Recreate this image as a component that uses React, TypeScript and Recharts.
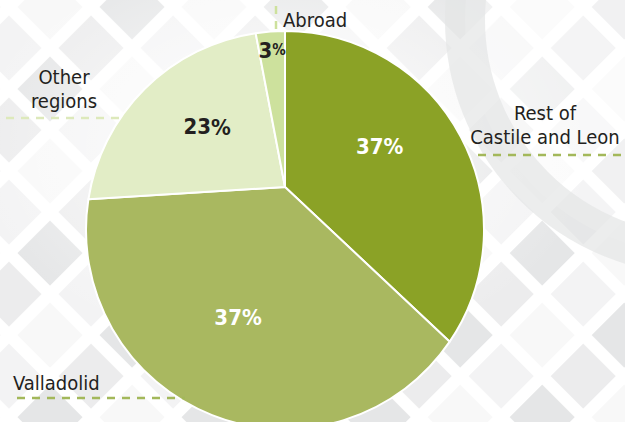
import { PieChart, Pie, Cell } from "recharts";

const regions = ["Rest of Castile and Leon", "Valladolid", "Other regions", "Abroad"];
const shares = [37, 37, 23, 3];
const sliceColors = ["#8ba226", "#a9b860", "#e2edc6", "#cde19d"];
const pctColors = ["#ffffff", "#ffffff", "#231f20", "#231f20"];

const data = regions.map((name, i) => ({ name, value: shares[i] }));

const W = 625;
const H = 422;
const LIFT = 43; // the slices meet this far above the circle's centre
const RAD = Math.PI / 180;
const FONT = "'DejaVu Sans Condensed', 'Liberation Sans', sans-serif";

// name labels with their dashed leader lines
const nameLabels = [
  { lines: ["Rest of", "Castile and Leon"], x: 545, y: 120, anchor: "middle", line: [478, 155, 625, 155], color: "#a3b85a" },
  { lines: ["Valladolid"], x: 13, y: 390, anchor: "start", line: [17, 398, 185, 398], color: "#a3b85a" },
  { lines: ["Other", "regions"], x: 64, y: 84, anchor: "middle", line: [6, 118, 120, 118], color: "#dde9bb" },
  { lines: ["Abroad"], x: 283, y: 27, anchor: "start", line: [276, 6, 276, 32], color: "#cde19d" },
];

// point where a ray from the vertex at recharts angle a meets the rim
function rim(cx: number, cy: number, r: number, a: number) {
  const ux = Math.cos(a * RAD);
  const uy = -Math.sin(a * RAD);
  const b = LIFT * Math.sin(a * RAD);
  const t = -b + Math.sqrt(b * b + r * r - LIFT * LIFT);
  return { x: cx + t * ux, y: cy - LIFT + t * uy, t, ux, uy };
}

function LiftedSector(props: any) {
  const { cx, cy, outerRadius, startAngle, endAngle, fill } = props;
  const p1 = rim(cx, cy, outerRadius, startAngle);
  const p2 = rim(cx, cy, outerRadius, endAngle);
  let sweep = Math.atan2(p2.y - cy, p2.x - cx) - Math.atan2(p1.y - cy, p1.x - cx);
  while (sweep < 0) sweep += 2 * Math.PI;
  const large = sweep > Math.PI ? 1 : 0;
  const d = `M${cx},${cy - LIFT}L${p1.x},${p1.y}A${outerRadius},${outerRadius} 0 ${large} 1 ${p2.x},${p2.y}Z`;
  return <path d={d} fill={fill} stroke="#fff" strokeWidth={2} strokeLinejoin="round" />;
}

function PctLabel(props: any) {
  const { cx, cy, outerRadius, midAngle, index, percent } = props;
  const small = percent < 0.05;
  const m = rim(cx, cy, outerRadius, midAngle);
  const k = small ? 0.88 : 0.58;
  const x = cx + m.ux * m.t * k;
  const y = cy - LIFT + m.uy * m.t * k;
  return (
    <text x={x} y={y} textAnchor="middle" dominantBaseline="central" fontFamily={FONT}
      fontWeight="bold" fontSize={22} fill={pctColors[index]}>
      {Math.round(percent * 100)}
      <tspan fontSize={small ? 15 : 22}>%</tspan>
    </text>
  );
}

export default function App() {
  return (
    <div style={{ position: "fixed", left: 0, top: 0, width: W, height: H, overflow: "hidden", background: "#fff" }}>
      <svg width={W} height={H} style={{ position: "absolute", left: 0, top: 0 }}>
        <defs>
          <pattern id="tiles" width={116} height={116} patternUnits="userSpaceOnUse"
            patternTransform="translate(50 48) rotate(45)">
            <rect width={116} height={116} fill="#fff" />
            <rect x={6} y={6} width={46} height={46} fill="#e5e6e7" />
            <rect x={64} y={6} width={46} height={46} fill="#f3f3f4" />
            <rect x={6} y={64} width={46} height={46} fill="#ececed" />
            <rect x={64} y={64} width={46} height={46} fill="#f8f8f8" />
          </pattern>
          <radialGradient id="glow" cx="0.45" cy="0.35" r="0.5">
            <stop offset="0" stopColor="#fff" stopOpacity={1} />
            <stop offset="1" stopColor="#fff" stopOpacity={0} />
          </radialGradient>
        </defs>
        <rect width={W} height={H} fill="url(#tiles)" />
        <rect width={W} height={H} fill="url(#glow)" />
        <circle cx={700} cy={20} r={235} fill="#fff" fillOpacity={0.45} stroke="#e4e5e6" strokeOpacity={0.7} strokeWidth={40} />
      </svg>
      <div style={{ position: "absolute", left: 0, top: 0 }}>
        <PieChart width={W} height={H} margin={{ top: 0, right: 0, bottom: 0, left: 0 }}>
          <Pie
            data={data}
            dataKey="value"
            nameKey="name"
            cx={285}
            cy={230}
            outerRadius={199}
            startAngle={90}
            endAngle={-270}
            stroke="#fff"
            shape={LiftedSector}
            label={PctLabel}
            labelLine={false}
            isAnimationActive={false}
          >
            {data.map((d, i) => (
              <Cell key={d.name} fill={sliceColors[i]} />
            ))}
          </Pie>
        </PieChart>
      </div>
      <svg width={W} height={H} style={{ position: "absolute", left: 0, top: 0, pointerEvents: "none" }}>
        {nameLabels.map((l) => (
          <g key={l.lines.join(" ")}>
            <line x1={l.line[0]} y1={l.line[1]} x2={l.line[2]} y2={l.line[3]} stroke={l.color}
              strokeWidth={2.5} strokeDasharray="8 7" />
            <text x={l.x} y={l.y} textAnchor={l.anchor as any} fontFamily={FONT} fontSize={20}
              fill="#231f20">
              {l.lines.map((s, k) => (
                <tspan key={s} x={l.x} dy={k === 0 ? 0 : 24}>{s}</tspan>
              ))}
            </text>
          </g>
        ))}
      </svg>
    </div>
  );
}
